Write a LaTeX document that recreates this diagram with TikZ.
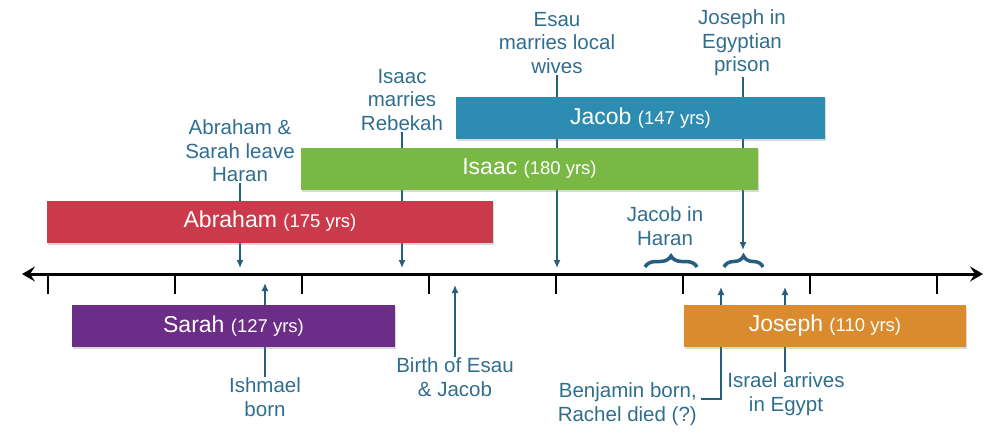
\documentclass[tikz,border=0pt]{standalone}
\usepackage{fontspec}
\setmainfont{Liberation Sans}
\usetikzlibrary{arrows.meta,decorations.pathreplacing,shadows}

\definecolor{abrahamred}{HTML}{CB3A4A}
\definecolor{isaacgreen}{HTML}{79B845}
\definecolor{jacobblue}{HTML}{2D8CB2}
\definecolor{sarahpurple}{HTML}{6B2D87}
\definecolor{josephorange}{HTML}{D98B2D}
\definecolor{labelblue}{HTML}{2F6E8F}
\definecolor{arrowblue}{HTML}{245F80}

\newcommand{\yrs}[1]{{\fontsize{18.5}{22}\selectfont(#1 yrs)}}

\begin{document}
\begin{tikzpicture}[x=1pt, y=-1pt,
	bar/.style={rectangle, text=white, minimum height=42pt, inner sep=0pt,
		font=\fontsize{23}{26}\selectfont,
		drop shadow={opacity=0.3, shadow xshift=1pt, shadow yshift=-2pt}},
	event/.style={text=labelblue, align=center, inner sep=1pt,
		font=\fontsize{20.5}{23.5}\selectfont},
	pointer/.style={draw=arrowblue, line width=1.4pt, -{Latex[length=8pt,width=7pt]}},
	timebrace/.style={draw=arrowblue, line width=3.5pt, decorate,
		decoration={brace, amplitude=11pt}}]
	\useasboundingbox (0,0) rectangle (990,431);

	% time axis
	\coordinate (tleft) at (22,274);
	\coordinate (tright) at (983,274);
	\draw[line width=3pt, {Stealth[length=13pt,width=15pt,inset=5pt]}-{Stealth[length=13pt,width=15pt,inset=5pt]}] (tleft) -- (tright);
	\foreach \x in {48, 175, 302, 429, 556, 683, 810, 937}{
		\draw[line width=2.6pt] (\x,274)--(\x,294);
	}

	% events above the axis
	\node[event] (leave) at (240,151) {Abraham \&\\Sarah leave\\Haran};
	\node[event] (rebekah) at (402,100) {Isaac\\marries\\Rebekah};
	\node[event] (wives) at (557,43) {Esau\\marries local\\wives};
	\node[event] (prison) at (742,43) {Joseph in\\Egyptian\\prison};
	\node[event] (haran) at (665,226) {Jacob in\\Haran};
	\coordinate (leavept) at (240,268);
	\coordinate (rebekahpt) at (402,268);
	\coordinate (wivespt) at (557,268);
	\coordinate (prisonpt) at (743,250);
	\draw[pointer] (leave) -- (leavept);
	\draw[pointer] (rebekah) -- (rebekahpt);
	\draw[pointer] (wives) -- (wivespt);
	\draw[pointer] (prison.south -| prisonpt) -- (prisonpt);
	\draw[timebrace] (645,267) -- (697,267);
	\draw[timebrace] (724,267) -- (763,267);

	% events below the axis
	\node[event] (ishmael) at (265,397) {Ishmael\\born};
	\node[event] (birth) at (455,377) {Birth of Esau\\\& Jacob};
	\node[event, align=right, anchor=east] (benjamin) at (698,404) {Benjamin born,\\Rachel died (?)};
	\node[event] (israel) at (786,394) {Israel arrives\\in Egypt};
	\coordinate (ishmaelpt) at (265,283);
	\coordinate (birthpt) at (455,285);
	\coordinate (benjaminpt) at (721,287);
	\coordinate (israelpt) at (785,287);
	\draw[pointer] (ishmael) -- (ishmaelpt);
	\draw[pointer] (birth) -- (birthpt);
	\draw[pointer] ([xshift=3pt,yshift=5pt]benjamin.east) -| (benjaminpt);
	\draw[pointer] (israel.north -| israelpt) -- (israelpt);

	% life spans
	\node[bar, fill=abrahamred, minimum width=446pt] (abraham) at (270,221.5) {Abraham \yrs{175}};
	\node[bar, fill=isaacgreen, minimum width=457pt] (isaac) at (529.5,169) {Isaac \yrs{180}};
	\node[bar, fill=jacobblue, minimum width=369pt] (jacob) at (640.5,118) {Jacob \yrs{147}};
	\node[bar, fill=sarahpurple, minimum width=323pt] (sarah) at (233.5,326) {Sarah \yrs{127}};
	\node[bar, fill=josephorange, minimum width=282pt] (joseph) at (825,326) {Joseph \yrs{110}};
\end{tikzpicture}
\end{document}
